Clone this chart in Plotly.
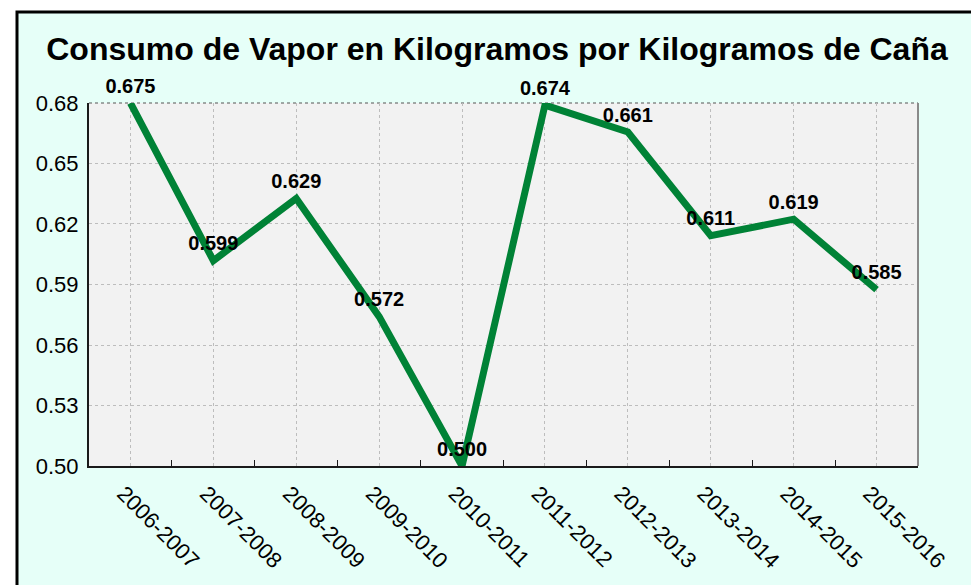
import plotly.graph_objects as go

periods = ["2006-2007", "2007-2008", "2008-2009", "2009-2010", "2010-2011",
           "2011-2012", "2012-2013", "2013-2014", "2014-2015", "2015-2016"]
consumo = [0.675, 0.599, 0.629, 0.572, 0.500, 0.674, 0.661, 0.611, 0.619, 0.585]
labels = ["0.675", "0.599", "0.629", "0.572", "0.500", "0.674", "0.661", "0.611", "0.619", "0.585"]

ytick_vals = [0.500, 0.52917, 0.55833, 0.5875, 0.61667, 0.64583, 0.675]
ytick_text = ["0.50", "0.53", "0.56", "0.59", "0.62", "0.65", "0.68"]
y_range = [0.500, 0.675]

xpos = list(range(len(periods)))
boundaries = [i + 0.5 for i in xpos[:-1]]

fig = go.Figure()
fig.add_trace(go.Scatter(
    x=xpos, y=consumo, mode="lines+markers+text",
    line=dict(color="#008236", width=7),
    marker=dict(size=7, color="rgba(0,0,0,0)"),
    text=labels, textposition="top center",
    textfont=dict(family="Arial", size=20, color="black", weight="bold"),
    cliponaxis=False, showlegend=False, hoverinfo="x+y",
))

L, R, T, B = 89, 971 - 918, 103, 585 - 468
W, H = 971 - L - R, 585 - T - B

grid = "#BDBDBD"
fig.update_layout(
    width=971, height=585,
    margin=dict(l=L, r=R, t=T, b=B),
    paper_bgcolor="#E6FFF8",
    plot_bgcolor="#F2F2F2",
    title=dict(text="<b>Consumo de Vapor en Kilogramos por Kilogramos de Caña</b>",
               font=dict(family="Arial", size=32, color="black"),
               x=497 / 971, xanchor="center", xref="container",
               y=1 - 49 / 585, yanchor="middle", yref="container"),
    xaxis=dict(range=[-0.5, len(periods) - 0.5], tickmode="array",
               tickvals=xpos, ticktext=periods, tickangle=45,
               ticks="", showgrid=True, gridcolor=grid, griddash="dot", gridwidth=1,
               showline=True, linecolor="#1a1a1a", linewidth=2,
               tickfont=dict(family="Arial", size=22, color="black"),
               ticklabelshift=-7, ticklabelstandoff=4,
               zeroline=False,
               minor=dict(tickmode="array", tickvals=boundaries, ticks="inside",
                          ticklen=6, tickcolor="#1a1a1a", tickwidth=1, showgrid=False)),
    yaxis=dict(range=y_range, tickmode="array", tickvals=ytick_vals, ticktext=ytick_text,
               ticks="", showgrid=True, gridcolor=grid, griddash="dot", gridwidth=1,
               showline=True, linecolor="#1a1a1a", linewidth=2,
               tickfont=dict(family="Arial", size=22, color="black"),
               ticklabelstandoff=4,
               zeroline=False),
    shapes=[
        # white area outside the chart frame (top and left strips)
        dict(type="rect", xref="paper", yref="paper", layer="above",
             x0=(-20 - L) / W, x1=(1000 - L) / W,
             y0=(468 - 11) / H, y1=(468 + 20) / H,
             fillcolor="white", line=dict(width=0)),
        dict(type="rect", xref="paper", yref="paper", layer="above",
             x0=(-20 - L) / W, x1=(16 - L) / W,
             y0=(468 - 620) / H, y1=(468 + 20) / H,
             fillcolor="white", line=dict(width=0)),
        # frame border
        dict(type="rect", xref="paper", yref="paper", layer="above",
             x0=(17 - L) / W, x1=(1000 - L) / W,
             y0=(468 - 620) / H, y1=(468 - 11.5) / H,
             fillcolor="rgba(0,0,0,0)", line=dict(color="black", width=3)),
        # right edge of plot area
        dict(type="line", xref="paper", yref="paper",
             x0=1, x1=1, y0=0, y1=1, line=dict(color="#8a8a8a", width=2)),
        # top dotted edge of plot area
        dict(type="line", xref="paper", yref="paper", layer="below",
             x0=0, x1=1, y0=1, y1=1, line=dict(color="#555555", width=1, dash="dot")),
    ],
)

fig.write_html("out.html", config={"displayModeBar": False},
               post_script="document.body.style.margin='0';")
